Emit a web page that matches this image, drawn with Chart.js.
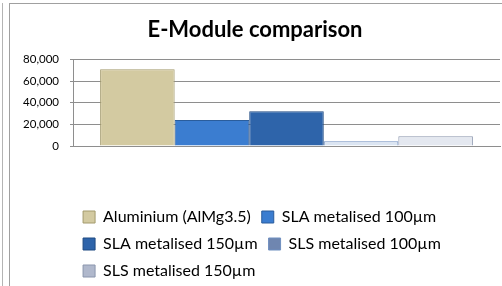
<!DOCTYPE html>
<html>
<head>
<meta charset="utf-8">
<script src="https://cdn.jsdelivr.net/npm/chart.js@4.4.1/dist/chart.umd.min.js"></script>
<style>
  body{ margin:0; background:#fff; overflow:hidden; }
  #sideLine{ position:absolute; left:2px; top:3px; width:1px; height:290px; background:#b4b4b4; }
  #frame{ position:absolute; left:9px; top:3px; width:600px; height:400px; border:1px solid #a0a0a0; }
  #wrap{ position:absolute; left:10px; top:4px; width:492px; height:285px; }
</style>
</head>
<body>
<div id="sideLine"></div>
<div id="frame"></div>
<div id="wrap"><canvas id="emodChart"></canvas></div>
<script>

/* ========================= */
/* DATA */
/* ========================= */

const categories = [""];

const seriesNames = [
  "Aluminium (AlMg3.5)",
  "SLA metalised 100µm",
  "SLA metalised 150µm",
  "SLS metalised 100µm",
  "SLS metalised 150µm"
];

const aluminium = [71000];
const sla100 = [24000];
const sla150 = [32000];
const sls100 = [4500];
const sls150 = [9000];

const yTicks = [0, 20000, 40000, 60000, 80000];

/* ========================= */
/* STYLE */
/* ========================= */

const fills = ['#d3caa1', '#3b7dd0', '#2e64aa', '#dbe5f2', '#e4e8f0'];
const borders = ['#a39a6c', '#2a5d9c', '#1f4a82', '#6f8fc0', '#8a95ad'];
const legendFills = ['#d3caa1', '#3b7dd0', '#2e64aa', '#6f86b0', '#b0b8cc'];

const values = [aluminium, sla100, sla150, sls100, sls150];

const datasets = values.map((v, i) => ({
  label: seriesNames[i],
  data: v,
  backgroundColor: fills[i],
  borderColor: borders[i],
  borderWidth: 1,
  barPercentage: 1,
  categoryPercentage: 0.873
}));

/* legend rows start at same x, like Excel (block sits a bit right of centre) */
const legendGrid = {
  id: 'legendGrid',
  beforeDraw(chart){
    const lg = chart.legend;
    if(!lg || !lg.lineWidths) return;
    const m = Math.max(...lg.lineWidths) - 14;
    lg.lineWidths = lg.lineWidths.map(() => m);
  }
};

new Chart(
document.getElementById("emodChart"),
{
  type: 'bar',
  data: {
    labels: categories,
    datasets: datasets
  },
  plugins: [legendGrid],
  options: {
    responsive: true,
    maintainAspectRatio: false,
    animation: false,
    layout: {
      padding: { left: 0, right: 2, top: 0, bottom: 0 }
    },
    plugins: {
      tooltip: { enabled: false },
      title: {
        display: true,
        text: 'E-Module comparison',
        color: '#000',
        font: { family: 'Lato', size: 22, weight: 'bold' },
        padding: { top: 13, bottom: 16 }
      },
      legend: {
        position: 'bottom',
        labels: {
          color: '#000',
          font: { family: 'Lato', size: 16 },
          boxWidth: 12,
          boxHeight: 12,
          padding: 11,
          generateLabels(chart){
            return chart.data.datasets.map((ds, i) => ({
              text: ds.label,
              fillStyle: legendFills[i],
              strokeStyle: borders[i],
              lineWidth: 1,
              hidden: false,
              datasetIndex: i,
              fontColor: '#000'
            }));
          }
        }
      }
    },
    scales: {
      x: {
        grid: { display: false },
        border: { display: true, color: '#8e8e8e' },
        ticks: { display: false },
        afterFit(scale){ scale.height = 52; }
      },
      y: {
        min: 0,
        max: 80000,
        afterBuildTicks(scale){
          scale.ticks = yTicks.map(v => ({ value: v }));
        },
        afterFit(scale){ scale.width = 63; },
        grid: {
          color: '#8e8e8e',
          tickLength: 3,
          drawTicks: true
        },
        border: { display: true, color: '#8e8e8e' },
        ticks: {
          color: '#000',
          padding: 11,
          font: { family: 'Lato', size: 11.5 },
          callback: (v) => v.toLocaleString('en-US')
        }
      }
    }
  }
});

</script>
</body>
</html>
